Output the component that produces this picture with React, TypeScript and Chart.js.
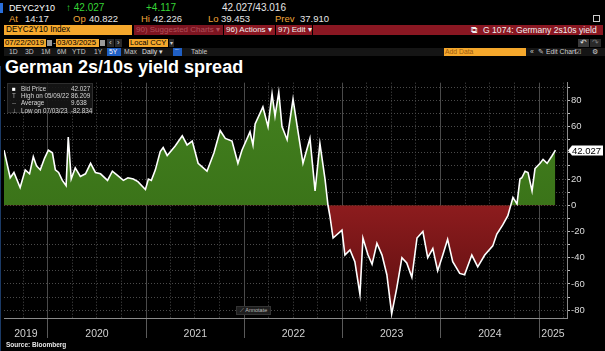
import React, { useEffect, useRef } from 'react';
import { Chart, registerables } from 'chart.js';

Chart.register(...registerables);

const dates: string[] = [
  '2019-07-22', '2019-08-14', '2019-08-28', '2019-09-20', '2019-10-09', '2019-10-25', '2019-11-08', '2019-11-20',
  '2019-12-04', '2019-12-20', '2020-01-03', '2020-01-18', '2020-01-29', '2020-02-10', '2020-02-24', '2020-03-09',
  '2020-03-17', '2020-03-28', '2020-04-12', '2020-05-01', '2020-05-20', '2020-06-08', '2020-06-26', '2020-07-15',
  '2020-08-10', '2020-08-28', '2020-09-15', '2020-10-08', '2020-10-25', '2020-11-14', '2020-12-01', '2020-12-29',
  '2021-01-09', '2021-01-20', '2021-02-04', '2021-02-22', '2021-03-05', '2021-03-20', '2021-04-18', '2021-05-15',
  '2021-06-02', '2021-06-21', '2021-07-13', '2021-08-15', '2021-09-10', '2021-10-03', '2021-10-22', '2021-11-16',
  '2021-12-08', '2021-12-23', '2022-01-22', '2022-02-02', '2022-02-10', '2022-03-11', '2022-03-30', '2022-04-14',
  '2022-04-25', '2022-05-09', '2022-05-21', '2022-06-09', '2022-07-01', '2022-07-19', '2022-08-07', '2022-09-02',
  '2022-09-21', '2022-10-09', '2022-10-28', '2022-11-08', '2022-11-15', '2022-11-27', '2022-12-30', '2023-01-10',
  '2023-01-29', '2023-02-16', '2023-03-07', '2023-03-18', '2023-04-06', '2023-04-21', '2023-05-09', '2023-05-28',
  '2023-06-15', '2023-07-03', '2023-07-22', '2023-08-10', '2023-08-28', '2023-09-16', '2023-10-05', '2023-10-27',
  '2023-11-14', '2023-12-03', '2023-12-21', '2024-01-09', '2024-01-27', '2024-02-15', '2024-03-12', '2024-03-30',
  '2024-04-26', '2024-05-18', '2024-06-13', '2024-07-13', '2024-07-28', '2024-08-19', '2024-09-07', '2024-09-26',
  '2024-10-11', '2024-10-22', '2024-10-29', '2024-11-10', '2024-11-21', '2024-12-06', '2024-12-17', '2025-01-05',
  '2025-01-16', '2025-01-31', '2025-02-19', '2025-03-03',
];

const spread: number[] = [
  42, 21, 25, 13.5, 27, 24, 37, 30,
  27, 36, 42, 40, 27, 25, 19, 15,
  52, 20, 28.5, 22, 24, 32, 25, 24,
  19, 26, 23, 19, 21, 20, 18, 12,
  20, 19, 27, 41, 44, 38, 45, 53,
  46, 49, 32, 26, 40, 57, 51, 49,
  32, 42, 56, 46, 62, 75, 60, 85,
  68, 86.209, 60, 50, 81, 57, 32, 51,
  11, 47, 20, 0, -8, -25, -19, -38,
  -34, -43, -68, -25, -38, -45, -29, -38,
  -53, -82.834, -63, -40, -44, -55, -25, -20,
  -40, -33, -50, -38, -26, -43, -52, -53,
  -38, -47, -38, -31, -22, -15, -8, 6,
  1, 20, 21, 26, 25, 11, 28, 32,
  35, 32, 38, 42.027,
];

const yearLabels: string[] = ['2019', '2020', '2021', '2022', '2023', '2024', '2025'];
const xStart = '2019-07-22';
const xEnd = '2025-04-15';

const legendRows: { label: string; value: string; mark: string }[] = [
  { mark: '■', label: 'Bid Price', value: '42.027' },
  { mark: 'T', label: 'High on 05/09/22', value: '86.209' },
  { mark: '--', label: 'Average', value: '9.638' },
  { mark: '⊥', label: 'Low on 07/03/23', value: '-82.834' },
];

const SANS = '"Liberation Sans",Arial,sans-serif';

function T(props: { x: number; y: number; c?: string; s?: number; b?: boolean; children: React.ReactNode }) {
  const { x, y, c = '#e6e6e6', s = 9, b = false, children } = props;
  return (
    <span style={{ position: 'absolute', left: x, top: y, color: c, fontSize: s, lineHeight: `${s + 1}px`, fontWeight: b ? 700 : 400, fontFamily: SANS, whiteSpace: 'nowrap' }}>{children}</span>
  );
}

function Box(props: { x: number; y: number; w: number; h: number; bg: string; c?: string; s?: number; pad?: number; children?: React.ReactNode }) {
  const { x, y, w, h, bg, c = '#000', s = 9, pad = 2, children } = props;
  return (
    <div style={{ position: 'absolute', left: x, top: y, width: w, height: h, background: bg, color: c, fontSize: s, lineHeight: `${h}px`, fontFamily: SANS, paddingLeft: pad, boxSizing: 'border-box', whiteSpace: 'nowrap', overflow: 'hidden' }}>{children}</div>
  );
}

const ORANGE = '#f5a82c';
const LBL = '#f0a63a';

export default function App() {
  const ref = useRef<HTMLCanvasElement | null>(null);

  useEffect(() => {
    document.body.style.margin = '0';
    document.body.style.background = '#000';
    const canvas = ref.current;
    if (!canvas) return;
    const c2d = canvas.getContext('2d');
    if (!c2d) return;
    const redGrad = c2d.createLinearGradient(0, 127, 0, 242);
    redGrad.addColorStop(0, '#8e1c1e');
    redGrad.addColorStop(1, '#5a0e0f');
    const greenGrad = c2d.createLinearGradient(0, 20, 0, 127);
    greenGrad.addColorStop(0, '#427f1e');
    greenGrad.addColorStop(1, '#3b7419');

    const xMin = Date.parse(xStart);
    const xMax = Date.parse(xEnd);

    const quarterTicks: number[] = [];
    yearLabels.forEach((yl) => {
      const y = Number(yl);
      [0, 3, 6, 9].forEach((m) => {
        const v = Date.UTC(y, m, 1);
        if (v > xMin && v < xMax) quarterTicks.push(v);
      });
    });

    const isYear = (v: number | undefined) => v !== undefined && new Date(v).getUTCMonth() === 0;

    const overlay = {
      id: 'overlay',
      afterDraw(chart: any) {
        const { ctx, chartArea, scales } = chart;
        const xs = scales.x;
        const ys = scales.y;
        ctx.save();
        ctx.font = `10.5px ${SANS}`;
        ctx.fillStyle = '#d0d0d0';
        ctx.textAlign = 'center';
        ctx.textBaseline = 'middle';
        yearLabels.forEach((label) => {
          const y = Number(label);
          const s = Math.max(Date.UTC(y, 0, 1), xs.min);
          const e = Math.min(Date.UTC(y + 1, 0, 1), xs.max);
          if (e <= s) return;
          const px = (xs.getPixelForValue(s) + xs.getPixelForValue(e)) / 2;
          ctx.fillText(label, px, chartArea.bottom + 16);
        });
        const last = spread[spread.length - 1];
        const py = Math.round(ys.getPixelForValue(last)) + 0.5;
        const x0 = chartArea.right + 1;
        ctx.fillStyle = '#ffffff';
        ctx.beginPath();
        ctx.moveTo(x0, py);
        ctx.lineTo(x0 + 4, py - 5);
        ctx.lineTo(x0 + 35, py - 5);
        ctx.lineTo(x0 + 35, py + 5);
        ctx.lineTo(x0 + 4, py + 5);
        ctx.closePath();
        ctx.fill();
        ctx.fillStyle = '#000';
        ctx.textAlign = 'left';
        ctx.font = `9.5px ${SANS}`;
        ctx.fillText(last.toFixed(3), x0 + 4, py + 0.5);
        ctx.restore();
      },
    };

    const chart = new Chart(canvas, {
      type: 'line',
      data: {
        datasets: [
          {
            data: dates.map((d, i) => ({ x: Date.parse(d), y: spread[i] })),
            borderColor: '#ffffff',
            borderWidth: 1.6,
            pointRadius: 0,
            tension: 0,
            fill: { target: { value: 0 }, above: greenGrad, below: redGrad },
          } as any,
        ],
      },
      options: {
        responsive: false,
        maintainAspectRatio: false,
        animation: false,
        events: [],
        layout: { padding: { left: 4, top: 2, right: 0, bottom: 0 } },
        plugins: { legend: { display: false }, tooltip: { enabled: false } },
        scales: {
          x: {
            type: 'linear',
            min: xMin,
            max: xMax,
            afterBuildTicks: (scale: any) => {
              scale.ticks = quarterTicks.map((v) => ({ value: v }));
            },
            afterFit: (scale: any) => {
              scale.height = 33;
            },
            ticks: { display: false },
            grid: {
              color: '#4a4a4a',
              lineWidth: 1,
              tickLength: 20,
              tickColor: (ctx: any) => (isYear(ctx.tick?.value) ? '#5a5a5a' : 'rgba(0,0,0,0)'),
            },
            border: {
              display: true,
              color: '#8a8a8a',
              width: 1,
              dash: (ctx: any) => (ctx.tick && !isYear(ctx.tick.value) ? [1, 2] : []),
            } as any,
          },
          y: {
            type: 'linear',
            position: 'right',
            min: -86,
            max: 93.5,
            afterFit: (scale: any) => {
              scale.width = 38;
            },
            ticks: {
              stepSize: 10,
              includeBounds: false,
              autoSkip: false,
              padding: 1,
              color: '#dcdcdc',
              font: { size: 9.5, family: SANS },
              callback: (v: any) => (Number(v) % 20 === 0 ? String(v) : ''),
            },
            grid: {
              color: '#4a4a4a',
              lineWidth: 1,
              tickLength: 3,
              tickColor: '#bdbdbd',
            },
            border: { display: true, color: '#8a8a8a', width: 1, dash: [1, 2] } as any,
          },
        },
      },
      plugins: [overlay],
    });
    return () => chart.destroy();
  }, []);

  return (
    <div style={{ position: 'relative', width: 605, height: 351, background: '#000', overflow: 'hidden' }}>
      {/* row 1 */}
      <div style={{ position: 'absolute', left: 0, top: 3, width: 3, height: 10, background: '#2a6fdb' }} />
      <T x={9} y={2.5} c="#ffffff" s={9}>DEYC2Y10</T>
      <T x={66} y={2} c="#36d436" s={10}>↑ 42.027</T>
      <T x={146} y={2} c="#36d436" s={10}>+4.117</T>
      <T x={222} y={2} c="#e6e6e6" s={10}>42.027/43.016</T>
      {/* row 2 */}
      <T x={9} y={14} c={LBL} s={9.5}>At</T>
      <T x={25} y={14} s={9.5}>14:17</T>
      <T x={73} y={14} c={LBL} s={9.5}>Op</T>
      <T x={89} y={14} s={9.5}>40.822</T>
      <T x={141} y={14} c={LBL} s={9.5}>Hi</T>
      <T x={153} y={14} s={9.5}>42.226</T>
      <T x={208} y={14} c={LBL} s={9.5}>Lo</T>
      <T x={221} y={14} s={9.5}>39.453</T>
      <T x={275} y={14} c={LBL} s={9.5}>Prev</T>
      <T x={300} y={14} s={9.5}>37.910</T>
      <div style={{ position: 'absolute', left: 593, top: 15, width: 7, height: 7, border: '1px solid #ccc', boxSizing: 'border-box' }} />
      {/* row 3 */}
      <Box x={4} y={25} w={128} h={10} bg={ORANGE} c="#000" s={8.2}>DEYC2Y10 Index</Box>
      <Box x={134} y={25} w={89} h={10} bg="#7d1420" c="#b0505a" s={8}>90) Suggested Charts ▾</Box>
      <Box x={224} y={25} w={51} h={10} bg="#8a1722" c="#f0f0f0" s={8}>96) Actions ▾</Box>
      <Box x={276} y={25} w={36} h={10} bg="#8a1722" c="#f0f0f0" s={8}>97) Edit ▾</Box>
      <Box x={313} y={25} w={290} h={10} bg="#8a1722" c="#f0f0f0" s={8.6} pad={0}>
        <span style={{ position: 'absolute', left: 158, top: 0 }}>⧉</span>
        <span style={{ position: 'absolute', left: 170, top: 0 }}>G 1074: Germany 2s10s yield</span>
      </Box>
      {/* row 4 */}
      <Box x={4} y={39} w={42} h={8} bg={ORANGE} c="#000" s={7.8} pad={1}>07/22/2019</Box>
      <Box x={47} y={40} w={5} h={6} bg="#9a9a9a" />
      <T x={53} y={37.5} s={8}>-</T>
      <Box x={56} y={39} w={43} h={8} bg={ORANGE} c="#000" s={7.8} pad={1}>03/03/2025</Box>
      <Box x={100} y={40} w={5} h={6} bg="#9a9a9a" />
      <Box x={107} y={39} w={7} h={8} bg="#2a2a2a" c="#ccc" s={8} pad={2}>‹</Box>
      <Box x={115} y={39} w={7} h={8} bg="#2a2a2a" c="#ccc" s={8} pad={2}>›</Box>
      <Box x={129} y={39} w={39} h={8} bg={ORANGE} c="#000" s={7.6} pad={1}>Local CCY</Box>
      <Box x={169} y={39} w={5} h={8} bg="#2a2a2a" c="#ccc" s={6} pad={1}>▾</Box>
      <Box x={578} y={39} w={11} h={8} bg="#3a3a3a" c="#ddd" s={7.5} pad={2}>↶</Box>
      <Box x={590} y={39} w={11} h={8} bg="#2a2a2a" c="#777" s={7.5} pad={2}>↷</Box>
      {/* row 5 */}
      <div style={{ position: 'absolute', left: 4, top: 48, width: 601, height: 8, background: '#151515' }} />
      <T x={9} y={47.5} s={6.8} c="#c8c8c8">1D</T>
      <T x={25} y={47.5} s={6.8} c="#c8c8c8">3D</T>
      <T x={41} y={47.5} s={6.8} c="#c8c8c8">1M</T>
      <T x={57} y={47.5} s={6.8} c="#c8c8c8">6M</T>
      <T x={72} y={47.5} s={6.8} c="#c8c8c8">YTD</T>
      <T x={94} y={47.5} s={6.8} c="#c8c8c8">1Y</T>
      <Box x={107} y={48} w={14} h={8} bg="#1f5fc4" c="#fff" s={6.8} pad={2}>5Y</Box>
      <T x={124} y={47.5} s={6.8} c="#c8c8c8">Max</T>
      <T x={142} y={47.5} s={6.8} c="#e0e0e0">Daily ▾</T>
      <Box x={173} y={48} w={9} h={8} bg="#1f5fc4" c="#fff" s={6} pad={1}>⌒</Box>
      <T x={191} y={47.5} s={6.8} c="#c8c8c8">Table</T>
      <Box x={444} y={48} w={82} h={8} bg={ORANGE} c="#9a5a10" s={6.8} pad={1}>Add Data</Box>
      <T x={530} y={47.5} s={6.8} c="#d0d0d0">«</T>
      <T x={538} y={47.5} s={6.8} c="#d0d0d0">✎ Edit Chart</T>
      <T x={575} y={47.5} s={6.8} c="#d0d0d0">☑</T>
      <T x={592} y={47.5} s={6.8} c="#d0d0d0">⚙</T>
      {/* title */}
      <span style={{ position: 'absolute', left: 5, top: 57.5, color: '#fff', fontFamily: SANS, fontWeight: 700, fontSize: 18, lineHeight: '18px', whiteSpace: 'nowrap' }}>German 2s/10s yield spread</span>
      <canvas ref={ref} width={605} height={275} style={{ position: 'absolute', left: 0, top: 76, width: 605, height: 275 }} />
      {/* legend box */}
      <div style={{ position: 'absolute', left: 7, top: 83, width: 86, height: 30, background: 'rgba(22,22,22,0.9)', border: '1px solid #2e2e2e', boxSizing: 'border-box' }}>
        {legendRows.map((r, i) => (
          <div key={i} style={{ position: 'absolute', left: 0, top: 1 + i * 7.2, width: 84, height: 7, fontSize: 6.3, lineHeight: '7px', fontFamily: SANS, color: '#d8d8d8', whiteSpace: 'nowrap' }}>
            <span style={{ position: 'absolute', left: 4, color: i === 0 ? '#fff' : '#aaa' }}>{r.mark}</span>
            <span style={{ position: 'absolute', left: 13 }}>{r.label}</span>
            <span style={{ position: 'absolute', left: 63 }}>{r.value}</span>
          </div>
        ))}
      </div>
      {/* annotate */}
      <div style={{ position: 'absolute', left: 236, top: 306, width: 35, height: 9, background: '#1e1e1e', border: '1px solid #333', boxSizing: 'border-box', color: '#bbb', fontSize: 5.5, lineHeight: '7px', fontFamily: SANS, paddingLeft: 3, whiteSpace: 'nowrap' }}>⟋ Annotate</div>
      {/* source */}
      <span style={{ position: 'absolute', left: 6, top: 341, color: '#e8e8e8', fontFamily: SANS, fontWeight: 700, fontSize: 6.5, lineHeight: '8px', whiteSpace: 'nowrap' }}>Source: Bloomberg</span>
      <div style={{ position: 'absolute', left: 0, top: 66, width: 1, height: 285, background: '#1b3a66' }} />
    </div>
  );
}
